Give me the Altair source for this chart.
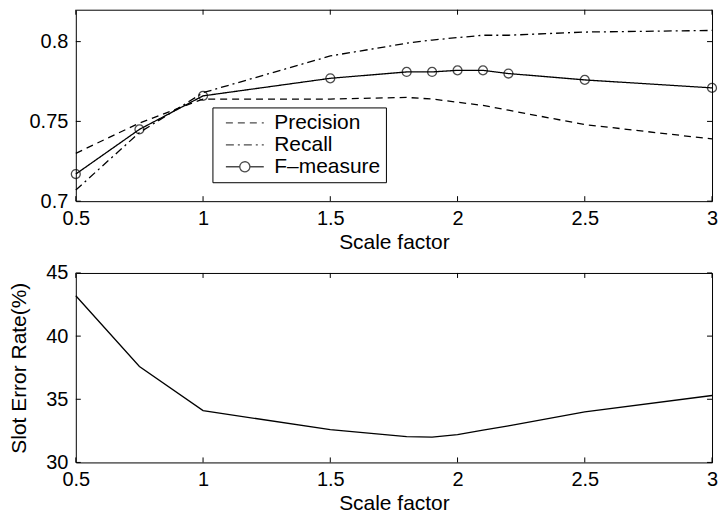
import altair as alt
import pandas as pd

# ---- data ----
scale_factor = [0.5, 0.75, 1.0, 1.5, 1.8, 1.9, 2.0, 2.1, 2.2, 2.5, 3.0]
precision = [0.730, 0.749, 0.764, 0.764, 0.765, 0.764, 0.762, 0.760, 0.757, 0.748, 0.739]
recall = [0.707, 0.743, 0.768, 0.791, 0.799, 0.801, 0.8025, 0.804, 0.804, 0.806, 0.807]
f_measure = [0.717, 0.745, 0.766, 0.777, 0.781, 0.781, 0.782, 0.782, 0.780, 0.776, 0.771]
slot_error_rate = [43.2, 37.6, 34.1, 32.6, 32.05, 32.0, 32.2, 32.55, 32.9, 34.0, 35.3]

series_names = ["Precision", "Recall", "F–measure"]
x_ticks = [0.5, 1, 1.5, 2, 2.5, 3]
top_y_ticks = [0.7, 0.75, 0.8]
bottom_y_ticks = [30, 35, 40, 45]
x_title = "Scale factor"
bottom_y_title = "Slot Error Rate(%)"

# ---- tables ----
rows = []
for name, vals in zip(series_names, [precision, recall, f_measure]):
    for xv, yv in zip(scale_factor, vals):
        rows.append({"x": xv, "y": yv, "series": name})
top_df = pd.DataFrame(rows)
fm_df = pd.DataFrame({"x": scale_factor, "y": f_measure})
bot_df = pd.DataFrame({"x": scale_factor, "y": slot_error_rate})
xt_df = pd.DataFrame({"x": x_ticks})
tyt_df = pd.DataFrame({"y": top_y_ticks})
byt_df = pd.DataFrame({"y": bottom_y_ticks})

W, H_TOP, H_BOT = 638, 192, 190
TICK = 5
LW = 1.3
FS_LABEL, FS_TITLE = 20, 21

x_scale = alt.Scale(domain=[0.5, 3], nice=False, zero=False)
x_axis = alt.Axis(values=x_ticks, format="~g", labelPadding=7, titlePadding=3,
                  labelFlush=False, labelOverlap=False)


def X(field="x"):
    return alt.X(f"{field}:Q", scale=x_scale, axis=x_axis, title=x_title)


def tick_layers(xdf, ydf, yscale, yaxis, ytitle, H):
    Yf = lambda: alt.Y("y:Q", scale=yscale, axis=yaxis, title=ytitle)
    base_x = alt.Chart(xdf).mark_rule(color="black", strokeWidth=1)
    base_y = alt.Chart(ydf).mark_rule(color="black", strokeWidth=1)
    return [
        base_x.encode(x=X(), y=alt.value(0), y2=alt.value(TICK)),
        base_x.encode(x=X(), y=alt.value(H - TICK), y2=alt.value(H)),
        base_y.encode(y=Yf(), x=alt.value(0), x2=alt.value(TICK)),
        base_y.encode(y=Yf(), x=alt.value(W - TICK), x2=alt.value(W)),
    ]


# ---- top chart ----
top_y_scale = alt.Scale(domain=[0.7, 0.82], nice=False, zero=False)
top_y_axis = alt.Axis(values=top_y_ticks, format=".2~f", labelPadding=8,
                      labelFlush=False, labelOverlap=False)

# legend glyphs: drawn twice as wide as their layout footprint
line_symbol = "M-2,0H2"
fm_symbol = ("M-2,0H-0.53M0.53,0H2M-0.53,0A0.53,0.53,0,1,1,0.53,0"
             "A0.53,0.53,0,1,1,-0.53,0")


def make_legend():
    return alt.Legend(
        title=None, orient="none", legendX=137, legendY=98,
        fillColor="white", strokeColor="black", padding=5,
        labelFontSize=21, labelColor="black", labelOffset=19,
        symbolSize=361, symbolStrokeWidth=LW, symbolStrokeColor="black",
        symbolFillColor="white", symbolOffset=17, rowPadding=0, cornerRadius=0,
    )


dash_scale = alt.Scale(domain=series_names, range=[[7, 5], [8, 4, 2, 4], [1, 0]])
shape_scale = alt.Scale(domain=series_names, range=[line_symbol, line_symbol, fm_symbol])

top_lines = alt.Chart(top_df).mark_line(color="black", strokeWidth=LW).encode(
    x=X(),
    y=alt.Y("y:Q", scale=top_y_scale, axis=top_y_axis, title=None),
    strokeDash=alt.StrokeDash("series:N", scale=dash_scale, legend=make_legend()),
)
# carries only the legend symbol shapes; draws nothing
legend_shapes = alt.Chart(top_df).mark_point(color="black", filled=False).encode(
    x=X(),
    y=alt.Y("y:Q", scale=top_y_scale, axis=top_y_axis, title=None),
    shape=alt.Shape("series:N", scale=shape_scale, legend=make_legend()),
).transform_filter("false")

top_points = alt.Chart(fm_df).mark_point(
    shape="circle", filled=False, size=80, color="black", strokeWidth=LW
).encode(
    x=X(),
    y=alt.Y("y:Q", scale=top_y_scale, axis=top_y_axis, title=None),
)

top = alt.layer(
    top_lines, legend_shapes, top_points,
    *tick_layers(xt_df, tyt_df, top_y_scale, top_y_axis, None, H_TOP)
).properties(width=W, height=H_TOP)

# ---- bottom chart ----
bot_y_scale = alt.Scale(domain=[30, 45], nice=False, zero=False)
bot_y_axis = alt.Axis(values=bottom_y_ticks, format="~g", labelPadding=8,
                      titlePadding=16, labelFlush=False, labelOverlap=False)

bot_line = alt.Chart(bot_df).mark_line(color="black", strokeWidth=LW).encode(
    x=X(),
    y=alt.Y("y:Q", scale=bot_y_scale, axis=bot_y_axis, title=bottom_y_title),
)
bottom = alt.layer(
    bot_line,
    *tick_layers(xt_df, byt_df, bot_y_scale, bot_y_axis, bottom_y_title, H_BOT)
).properties(width=W, height=H_BOT)

chart = alt.vconcat(top, bottom, spacing=9).properties(
    padding={"left": 0, "top": 0, "right": 0, "bottom": 0}
).configure(
    font="Liberation Sans",
).configure_axis(
    labelFont="Liberation Sans", titleFont="Liberation Sans",
    labelFontSize=FS_LABEL, titleFontSize=FS_TITLE, labelColor="black",
    titleColor="black", titleFontWeight="normal", domain=False, ticks=False,
    grid=False,
).configure_view(
    stroke="black", strokeWidth=1,
).configure_legend(
    labelFont="Liberation Sans",
)

chart.save("out.html", embed_options={"renderer": "svg", "actions": False})
